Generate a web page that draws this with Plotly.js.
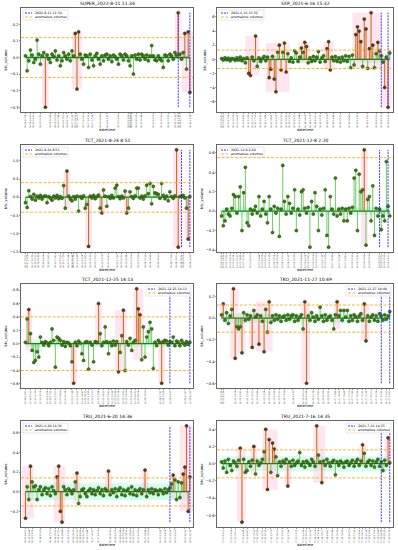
<!DOCTYPE html>
<html><head><meta charset="utf-8">
<script src="https://cdn.plot.ly/plotly-3.0.1.min.js"></script>
<style>html,body{margin:0;padding:0;background:#fff}</style>
</head><body><div id="chart" style="width:398px;height:550px"></div>
<script>
const titles = ["SUPER_2022-8-11 11:34","SXP_2021-6-16 15:32","TCT_2021-8-24 8:51","TCT_2021-12-8 2:20","TCT_2021-12-25 14:13","TKO_2021-11-27 10:49","TRU_2021-6-20 14:36","TRU_2021-7-16 14:35"];
const eventLabels = ["2022-8-11 11:34","2021-6-16 15:32","2021-8-24 8:51","2021-12-8 2:20","2021-12-25 14:13","2021-11-27 10:49","2021-6-20 14:36","2021-7-16 14:35"];

const vSUPER = [0.01,-0.08,-0.02,0.045,0.015,-0.03,-0.01,0.105,0.02,-0.04,0.01,0.03,-0.30,0.015,-0.01,-0.03,0.02,0.005,0.04,-0.015,0.01,-0.05,-0.02,0.03,0.01,-0.01,0.02,-0.02,0.04,0.01,0.145,-0.19,0.155,0.02,-0.01,-0.04,0.015,0.01,-0.06,0.02,-0.015,-0.05,0.01,0.025,-0.01,-0.04,0.01,-0.02,0.015,0.02,-0.01,0.01,-0.025,0.015,0.005,-0.01,-0.04,0.02,0.01,-0.015,0.02,0.01,-0.02,-0.05,0.01,-0.10,0.015,-0.01,0.02,-0.015,0.02,0.01,-0.01,0.015,-0.02,0.01,0.072,0.01,-0.015,-0.02,0.01,-0.01,-0.02,-0.06,0.015,0.01,-0.02,0.02,0.01,-0.01,0.03,0.015,0.27,0.02,-0.01,0.03,0.145,-0.07,0.155,-0.21];
const vSXP = [0.1,-0.1,0.2,-0.05,0.15,-0.2,0.1,0.05,-0.15,0.2,-0.1,0.3,-0.2,0.1,-0.5,0.2,-2.0,-2.3,0.3,-0.2,3.3,-1.0,0.2,-0.3,0.1,0.4,-0.2,0.3,-2.6,-1.4,0.4,-2.8,-4.6,1.0,2.0,-1.5,1.0,2.3,-1.8,0.8,-0.3,0.2,-0.4,1.2,0.9,-0.3,0.3,1.6,1.0,2.4,1.8,-0.5,0.2,-0.3,0.4,-0.2,0.3,1.1,-0.4,0.2,0.5,-0.3,1.5,2.5,-1.5,0.3,-0.2,0.4,-0.3,0.2,-0.4,0.3,-0.2,0.5,-0.3,0.4,-1.2,0.6,-0.8,3.5,4.6,4.0,2.5,-1.0,5.7,4.3,-1.3,1.5,6.6,2.0,-1.2,0.8,2.4,1.2,0.5,-0.4,-4.0,0.3,-6.8,0.9];
const vTCT1 = [-0.15,-0.28,0.18,0.02,-0.05,0.08,-0.08,0.03,-0.02,0.05,-0.05,0.02,0.04,-0.15,0.02,-0.03,-0.08,0.03,-0.02,0.05,-0.04,0.02,-0.03,0.32,-0.30,0.72,0.03,-0.05,-0.10,0.02,-0.05,0.03,-0.38,0.02,-0.03,0.04,-0.30,-0.20,-1.35,0.03,-0.02,0.05,-0.04,0.02,0.06,-0.30,-0.43,0.20,0.03,-0.25,0.02,-0.03,0.05,-0.02,0.25,0.33,0.02,-0.04,0.03,-0.02,0.17,-0.43,-0.30,0.15,0.02,-0.03,0.04,0.25,0.25,-0.02,0.03,-0.05,0.04,0.33,0.10,0.38,-0.18,0.30,0.12,0.10,0.08,-0.03,0.38,0.05,-0.04,0.03,-0.10,0.15,0.02,-0.03,0.04,1.30,-1.37,0.02,0.03,0.05,-0.02,-0.30,-1.15,0.02];
const vTCT2 = [-0.05,-0.15,-0.10,0.02,-0.03,-0.05,0.03,0.17,0.15,-0.02,0.15,0.25,-0.20,0.19,0.45,-0.12,-0.15,0.02,-0.03,0.01,0.05,-0.02,0.15,-0.05,0.02,0.10,-0.03,-0.12,0.15,0.02,-0.22,0.05,-0.02,0.03,-0.26,0.02,0.47,0.10,-0.03,0.15,0.08,-0.02,0.03,0.22,-0.20,0.02,-0.04,0.20,0.22,0.03,-0.02,0.04,-0.37,0.10,-0.03,0.19,0.05,-0.20,0.02,-0.04,0.03,0.22,-0.25,-0.37,0.15,0.02,-0.03,0.34,-0.05,0.02,-0.03,0.03,-0.10,0.02,-0.10,0.03,-0.02,0.04,0.34,0.42,-0.20,0.38,0.20,0.22,0.63,-0.35,0.12,0.15,-0.10,0.26,-0.25,0.03,-0.05,0.02,-0.19,-0.05,-0.10,0.51,0.05,-0.05];
const vTCT3 = [0.02,0.37,0.51,0.15,-0.10,-0.28,-0.25,-0.12,-0.20,0.10,0.02,-0.02,0.03,0.01,-0.03,0.02,0.22,0.05,-0.35,0.10,0.08,0.05,-0.02,0.03,-0.04,0.02,0.01,-0.03,-0.27,-0.59,0.02,-0.03,0.04,0.01,-0.15,-0.25,0.02,0.03,-0.38,0.02,-0.02,-0.27,0.03,0.02,0.60,0.15,-0.03,0.02,0.25,0.03,-0.15,0.02,-0.03,0.04,-0.02,0.03,-0.42,-0.13,0.12,0.50,-0.40,0.03,-0.02,0.08,-0.10,0.02,0.05,0.82,0.52,0.43,-0.24,0.25,-0.20,0.10,0.18,0.32,0.22,-0.37,0.02,-0.03,0.05,0.02,-0.59,0.03,0.05,0.04,-0.02,0.03,0.02,0.10,-0.03,0.04,0.02,-0.03,0.05,0.01,-0.02,0.03,-0.01,0.02];
const vTKO = [0.03,0.13,-0.02,0.05,-0.05,0.02,0.08,0.27,-0.37,-0.08,-0.10,-0.08,-0.32,0.05,-0.02,0.03,-0.01,0.02,-0.27,0.07,0.01,0.03,-0.24,0.02,-0.03,-0.31,0.08,-0.13,0.15,-0.04,0.02,-0.02,0.03,-0.01,0.02,-0.03,0.01,0.02,-0.02,0.03,-0.01,0.02,0.03,-0.03,0.02,-0.02,0.01,0.03,-0.10,0.15,-0.60,0.02,-0.02,0.05,0.01,-0.03,0.02,-0.01,0.10,0.02,-0.03,0.03,-0.02,0.01,0.02,-0.02,-0.10,0.03,0.15,0.02,0.07,-0.02,0.07,0.01,0.07,-0.03,0.02,-0.02,0.03,0.01,-0.03,0.02,0.04,-0.02,0.13,-0.21,0.02,-0.03,0.01,0.03,-0.02,0.02,-0.03,0.04,0.02,-0.02,0.03,-0.01,0.02,0.06];
const vTRU1 = [-0.27,0.05,-0.08,0.26,0.10,0.05,0.06,-0.08,0.02,0.05,-0.03,0.02,0.04,-0.02,0.03,-0.04,0.05,0.01,-0.02,0.15,0.26,-0.20,-0.31,0.05,0.02,-0.03,0.03,0.01,-0.02,0.02,0.10,0.19,-0.12,-0.05,0.02,0.03,-0.02,-0.05,0.01,0.03,-0.02,0.02,-0.03,0.01,0.04,-0.02,0.02,-0.04,0.03,0.01,0.21,-0.03,0.02,-0.01,0.03,-0.05,0.02,0.04,-0.03,0.02,-0.04,0.01,0.03,-0.02,0.05,-0.03,0.02,-0.04,0.01,0.03,-0.02,0.02,0.22,-0.05,0.02,-0.01,0.03,-0.02,0.02,0.01,-0.03,0.02,0.01,-0.02,0.03,-0.01,0.02,0.04,0.08,0.17,0.12,-0.08,0.10,-0.06,0.09,0.18,0.25,0.67,-0.20,0.15];
const vTRU2 = [0.02,-0.05,0.03,-0.10,0.05,-0.02,-0.08,0.03,0.01,-0.03,0.04,0.18,-0.68,0.05,-0.10,-0.08,0.02,-0.03,0.04,0.20,-0.12,0.03,-0.02,0.01,0.05,0.14,0.40,-0.30,0.28,-0.10,0.24,0.17,0.08,-0.14,0.02,-0.03,0.03,0.01,0.05,-0.26,0.02,-0.03,0.04,-0.02,0.01,0.03,0.13,-0.02,0.02,-0.04,0.03,0.01,-0.02,0.05,0.02,-0.03,0.44,0.10,0.02,-0.22,0.03,-0.02,0.05,0.01,-0.03,0.02,0.04,-0.13,0.02,-0.02,0.03,0.01,-0.04,0.02,0.03,-0.02,0.01,0.04,-0.03,0.02,0.05,-0.02,0.03,0.22,0.12,-0.03,0.02,0.04,-0.02,0.03,-0.04,0.02,0.05,-0.03,0.02,-0.08,0.04,-0.02,0.30,0.01];

const thresholds = [[0.12,-0.12],[1.3,-1.3],[0.4,-0.41],[0.55,-0.49,-0.55],[0.4,-0.4],[0.12,-0.13],[0.14,-0.145],[0.16,-0.165]];
const normalBand = [0.02,0.5,0.04,0.04,0.05,0.045,0.085,0.085];
const eventIdx = [[92,99],[94,98],[94,99],[93,98],[87,99],[94,99],[87,99],[94,99]];
const yStep = [0.1,2,0.5,0.2,0.2,0.2,0.2,0.2];

const ticks1 = [0,3,5,9,15,18,20,23,25,28,30,31,35,38,40,45,49,56,62,63,64,67,70,77,82,86,90,92,93,99];
const labels1 = ["08-04 10:24","08-04 18:40","08-05 01:12","08-05 09:36","08-05 20:48","08-06 02:08","08-06 07:44","08-06 13:20","08-06 17:52","08-07 00:16","08-07 04:32","08-07 06:00","08-07 12:40","08-07 18:12","08-07 22:24","08-08 06:48","08-08 13:36","08-09 01:28","08-09 11:04","08-09 12:52","08-09 14:20","08-09 19:36","08-10 00:44","08-10 12:08","08-10 20:56","08-11 03:32","08-11 09:16","08-11 11:34","08-11 12:30","08-11 13:34"];
const ticks2 = [0,1,4,7,9,13,16,18,20,23,26,29,32,35,38,40,43,46,49,52,55,58,62,66,70,75,80,86,91,94,98];
const labels2 = ["06-09 08:12","06-09 10:40","06-09 17:04","06-10 00:28","06-10 05:16","06-10 14:52","06-10 21:36","06-11 02:20","06-11 07:08","06-11 14:32","06-11 21:44","06-12 04:56","06-12 12:08","06-12 19:20","06-13 02:32","06-13 07:20","06-13 14:32","06-13 21:44","06-14 04:56","06-14 12:08","06-14 19:20","06-15 02:32","06-15 12:08","06-15 21:44","06-16 03:20","06-16 08:48","06-16 11:36","06-16 13:52","06-16 15:10","06-16 15:32","06-16 16:32"];
const ticks3 = [0,1,4,6,8,11,14,18,21,23,26,28,29,31,34,36,39,42,46,50,55,58,61,64,68,72,75,80,88,91,94,95,99];
const labels3 = ["08-17 09:20","08-17 11:04","08-17 19:36","08-18 02:12","08-18 06:48","08-18 14:24","08-18 21:52","08-19 07:40","08-19 13:16","08-19 17:28","08-20 00:44","08-20 05:12","08-20 07:36","08-20 11:48","08-20 19:04","08-20 23:40","08-21 06:16","08-21 13:32","08-21 22:08","08-22 06:40","08-22 17:56","08-23 00:20","08-23 06:44","08-23 13:08","08-23 21:36","08-24 02:16","08-24 04:48","08-24 06:52","08-24 07:58","08-24 08:20","08-24 08:51","08-24 09:06","08-24 09:51"];
const ticks4 = [0,1,3,5,7,9,11,13,17,22,24,26,28,31,33,36,39,43,47,49,51,54,56,59,61,65,69,73,77,80,84,87,93,94,96,98];
const labels4 = ["12-01 02:40","12-01 04:16","12-01 09:52","12-01 14:08","12-01 19:24","12-02 00:12","12-02 04:48","12-02 09:36","12-02 18:20","12-03 05:44","12-03 10:08","12-03 14:32","12-03 19:16","12-04 02:04","12-04 06:28","12-04 13:20","12-04 20:12","12-05 05:36","12-05 14:48","12-05 19:04","12-05 23:40","12-06 06:08","12-06 10:52","12-06 17:16","12-06 21:36","12-07 06:48","12-07 15:24","12-07 22:40","12-08 00:56","12-08 01:32","12-08 01:58","12-08 02:08","12-08 02:20","12-08 02:32","12-08 02:56","12-08 03:20"];
const ticks5 = [0,3,6,9,13,15,18,21,24,28,31,34,36,38,40,44,47,50,52,54,56,59,61,64,66,68,72,81,83,87,96,99];
const labels5 = ["12-18 13:40","12-18 19:12","12-19 00:36","12-19 06:08","12-19 13:24","12-19 17:52","12-19 23:20","12-20 04:56","12-20 10:24","12-20 17:48","12-20 23:16","12-21 04:40","12-21 08:12","12-21 11:56","12-21 15:20","12-21 22:44","12-22 04:12","12-22 09:40","12-22 13:16","12-22 16:48","12-22 20:24","12-23 01:52","12-23 05:28","12-23 10:56","12-23 14:32","12-23 18:04","12-24 01:28","12-24 17:52","12-24 21:28","12-25 14:13","12-25 17:40","12-25 19:13"];
const ticks6 = [0,1,8,11,15,18,21,25,28,31,34,37,42,48,50,54,57,60,63,67,69,72,75,77,80,83,85,88,91,94,97,99];
const labels6 = ["11-20 10:12","11-20 12:36","11-21 05:24","11-21 12:40","11-21 22:16","11-22 05:32","11-22 12:48","11-22 22:24","11-23 05:40","11-23 12:56","11-23 20:12","11-24 03:28","11-24 15:32","11-25 06:00","11-25 10:48","11-25 20:24","11-26 03:40","11-26 10:56","11-26 18:12","11-27 03:48","11-27 04:36","11-27 05:48","11-27 07:00","11-27 07:48","11-27 08:36","11-27 09:12","11-27 09:36","11-27 10:00","11-27 10:24","11-27 10:49","11-27 11:13","11-27 11:49"];
const ticks7 = [0,2,4,9,15,18,20,22,26,29,31,33,35,37,40,44,51,54,57,59,61,63,65,68,72,74,81,84,87,90,96,99];
const labels7 = ["06-13 14:20","06-13 18:44","06-13 23:08","06-14 10:08","06-14 23:20","06-15 05:56","06-15 10:20","06-15 14:44","06-15 23:32","06-16 06:08","06-16 10:32","06-16 14:56","06-16 19:20","06-16 23:44","06-17 06:20","06-17 15:08","06-18 06:32","06-18 13:08","06-18 19:44","06-19 00:08","06-19 04:32","06-19 08:56","06-19 13:20","06-19 19:56","06-20 04:44","06-20 09:08","06-20 13:28","06-20 14:04","06-20 14:36","06-20 15:08","06-20 16:12","06-20 16:36"];
const ticks8 = [1,6,8,13,15,19,21,24,26,29,33,36,39,44,48,50,52,55,57,59,62,65,68,71,75,78,81,83,85,87,90,92,94,96,99];
const labels8 = ["07-09 15:20","07-10 01:04","07-10 05:00","07-10 14:44","07-10 18:40","07-11 02:32","07-11 06:28","07-11 12:20","07-11 16:16","07-11 22:08","07-12 06:00","07-12 11:52","07-12 17:44","07-13 03:32","07-13 11:24","07-13 15:20","07-13 19:16","07-14 01:08","07-14 05:04","07-14 09:00","07-14 14:52","07-14 20:44","07-15 02:36","07-15 08:28","07-15 16:20","07-15 22:12","07-16 04:04","07-16 08:00","07-16 10:24","07-16 11:56","07-16 13:12","07-16 13:48","07-16 14:35","07-16 15:11","07-16 16:35"];

const allValues = [vSUPER,vSXP,vTCT1,vTCT2,vTCT3,vTKO,vTRU1,vTRU2];
const allTicks = [ticks1,ticks2,ticks3,ticks4,ticks5,ticks6,ticks7,ticks8];
const allLabels = [labels1,labels2,labels3,labels4,labels5,labels6,labels7,labels8];
const legendSide = ['left','left','left','left','right','right','left','right'];

const W=398,H=550;
const boxes = [[21,193,8,112],[217,393,8,112],[21,193,145,252],[217,393,145,252],[21,193,284,388],[217,393,284,388],[21,193,421,527],[217,393,421,527]];
const FONT='DejaVu Sans';
const traces=[], shapes=[], annotations=[];
const layout={width:W,height:H,margin:{l:0,r:0,t:0,b:0},showlegend:false,paper_bgcolor:'#fff',plot_bgcolor:'#fff',font:{family:FONT,size:4,color:'#000'}};
const px=x=>x/W, py=y=>1-y/H;

allValues.forEach((vals,k)=>{
  const n=k+1, sfx=n>1?String(n):'';
  const xa='x'+sfx, ya='y'+sfx;
  const [x0,x1,y0,y1]=boxes[k];
  const N=vals.length;
  const idx=vals.map((_,i)=>i);
  const hi=Math.max(...thresholds[k]), lo=Math.min(...thresholds[k]);
  const isAnom=v=>v>hi||v<lo;
  const vmin=Math.min(...vals), vmax=Math.max(...vals), span=vmax-vmin;

  shapes.push({type:'rect',xref:xa,yref:ya,x0:0,x1:N-1,y0:-normalBand[k],y1:normalBand[k],fillcolor:'rgba(110,255,200,0.30)',line:{width:0},layer:'below'});
  const an=idx.filter(i=>isAnom(vals[i]));
  const groups=[];
  an.forEach(i=>{ const g=groups[groups.length-1]; if(g && i-g[1]<=3) g[1]=i; else groups.push([i,i]); });
  groups.forEach(([a,b])=>{
    let mn=0,mx=0;
    for(let j=Math.max(0,a-2);j<=Math.min(N-1,b+2);j++){mn=Math.min(mn,vals[j]);mx=Math.max(mx,vals[j]);}
    shapes.push({type:'rect',xref:xa,yref:ya,x0:a-2,x1:b+2,y0:mn,y1:mx,fillcolor:'rgba(255,160,200,0.28)',line:{width:0},layer:'below'});
  });
  thresholds[k].forEach(t=>{
    shapes.push({type:'line',xref:xa+' domain',yref:ya,x0:0,x1:1,y0:t,y1:t,line:{color:'#f0b020',width:0.9,dash:'3px,1.5px'}});
  });

  const sx=[],sy=[],axx=[],ayy=[];
  vals.forEach((v,i)=>{ if(isAnom(v)){axx.push(i,i,null);ayy.push(0,v,null);} else {sx.push(i,i,null);sy.push(0,v,null);} });
  traces.push({x:sx,y:sy,xaxis:xa,yaxis:ya,mode:'lines',line:{color:'#4cbb3c',width:0.8},hoverinfo:'skip'});
  traces.push({x:axx,y:ayy,xaxis:xa,yaxis:ya,mode:'lines',line:{color:'#d2691e',width:1.1},hoverinfo:'skip'});
  traces.push({x:[0,N-1],y:[0,0],xaxis:xa,yaxis:ya,mode:'lines',line:{color:'#2f7a12',width:1.3},hoverinfo:'skip'});
  traces.push({x:idx,y:vals,xaxis:xa,yaxis:ya,mode:'markers',marker:{size:3.2,color:vals.map(v=>isAnom(v)?'#5a3a18':'#3d7a14'),line:{color:'#1f3a08',width:0.4}},hoverinfo:'skip'});
  eventIdx[k].forEach(e=>{
    traces.push({x:[e,e],y:[vmin,vmax],xaxis:xa,yaxis:ya,mode:'lines',line:{color:'#2222ee',width:0.9,dash:'2px,1px'},hoverinfo:'skip'});
  });

  layout['xaxis'+sfx]={domain:[px(x0),px(x1)],anchor:ya,range:[-2.7,N+0.9],showgrid:false,zeroline:false,showline:true,mirror:true,linecolor:'#000',linewidth:0.6,
    tickmode:'array',tickvals:allTicks[k],ticktext:allLabels[k],tickangle:-90,tickfont:{size:2.2,family:FONT,color:'#222'},ticks:'outside',ticklen:1.2,tickwidth:0.5,
    title:{text:'datetime',font:{size:3.6,family:FONT},standoff:1}};
  layout['yaxis'+sfx]={domain:[py(y1),py(y0)],anchor:xa,range:[vmin-0.05*span,vmax+0.05*span],showgrid:false,zeroline:false,showline:true,mirror:true,linecolor:'#000',linewidth:0.6,
    dtick:yStep[k],tick0:0,tickformat:yStep[k]>=1?'d':'.1f',tickfont:{size:3.6,family:FONT},ticks:'outside',ticklen:1.2,tickwidth:0.5,
    title:{text:'btc_volume',font:{size:3.6,family:FONT},standoff:2}};

  annotations.push({xref:'paper',yref:'paper',x:px((x0+x1)/2),y:py(y0-4),xanchor:'center',yanchor:'middle',showarrow:false,borderpad:0,text:titles[k],font:{size:4.5,family:FONT}});

  const LW=45, LH=10;
  const lx = legendSide[k]==='left' ? x0+2 : x1-2-LW;
  const ly = y0+2;
  shapes.push({type:'rect',xref:'paper',yref:'paper',x0:px(lx),x1:px(lx+LW),y0:py(ly+LH),y1:py(ly),fillcolor:'rgba(255,255,255,0.85)',line:{color:'#cccccc',width:0.5}});
  shapes.push({type:'line',xref:'paper',yref:'paper',x0:px(lx+2),x1:px(lx+9),y0:py(ly+3),y1:py(ly+3),line:{color:'#2222ee',width:0.9,dash:'2px,1px'}});
  shapes.push({type:'line',xref:'paper',yref:'paper',x0:px(lx+2),x1:px(lx+9),y0:py(ly+7),y1:py(ly+7),line:{color:'#f0b020',width:0.9,dash:'3px,1.5px'}});
  annotations.push({xref:'paper',yref:'paper',x:px(lx+11),y:py(ly+3),xanchor:'left',yanchor:'middle',showarrow:false,borderpad:0,text:eventLabels[k],font:{size:3.2,family:FONT}});
  annotations.push({xref:'paper',yref:'paper',x:px(lx+11),y:py(ly+7),xanchor:'left',yanchor:'middle',showarrow:false,borderpad:0,text:'anomalous volumes',font:{size:3.2,family:FONT}});
});
layout.shapes=shapes; layout.annotations=annotations;
Plotly.newPlot('chart',traces,layout,{staticPlot:true,displayModeBar:false});
</script></body></html>
